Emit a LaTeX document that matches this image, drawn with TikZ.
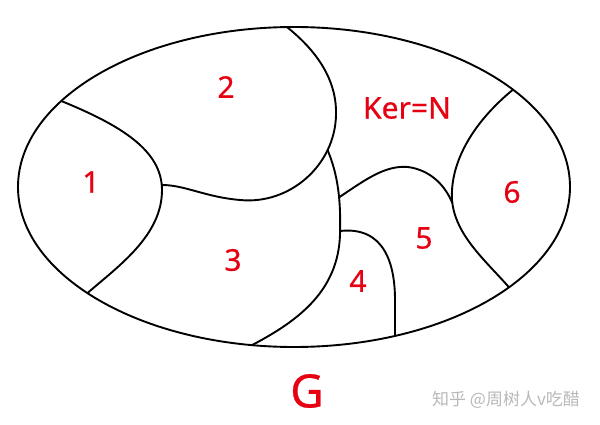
\documentclass[tikz,border=0pt]{standalone}
\usepackage{fontspec}
\setmainfont{Noto Sans}
\newfontfamily\cjk{Noto Sans CJK SC}
\newfontfamily\labfont[FakeBold=0.6]{Noto Sans}
\definecolor{lbl}{RGB}{230,0,18}
\definecolor{wm}{RGB}{185,185,185}
\begin{document}
\begin{tikzpicture}[x=1pt,y=-1pt,
  edge/.style={line width=1.9pt,line join=round},
  lab/.style={text=lbl,font=\labfont\fontsize{30}{34}\selectfont,inner sep=0pt},
  big/.style={text=lbl,font=\labfont\fontsize{46}{50}\selectfont,inner sep=0pt}]
\useasboundingbox[fill=white] (0,0) rectangle (600,425);
% outer group
\draw[edge] (294,187) ellipse [x radius=276, y radius=160];
% region 1
\draw[edge] (61.3,101) .. controls (120,125) and (162,150) .. (162,190)
  .. controls (162,235) and (120,265) .. (87.5,293);
% region 2 boundary
\draw[edge] (287,27.1) .. controls (322,55) and (337,85) .. (336,115)
  .. controls (335,165) and (290,205) .. (240,200)
  .. controls (205,197) and (185,185) .. (162,185);
% region 3 right boundary
\draw[edge] (327.6,150.1) .. controls (338,175) and (341,200) .. (340,235)
  .. controls (338,290) and (300,320) .. (252,345.1);
% region 5 top boundary
\draw[edge] (339.6,197) .. controls (365,180) and (385,165) .. (408,167)
  .. controls (430,170) and (445,185) .. (452.3,203);
% region 6 boundary
\draw[edge] (513,89.6) .. controls (470,125) and (450,165) .. (452,200)
  .. controls (455,235) and (485,260) .. (509,287.3);
% region 4 boundary
\draw[edge] (340,231) .. controls (385,226) and (395,265) .. (395,300) -- (395,335.9);
% labels
\node[lab] (l1) at (91,182) {1};
\node[lab] (l2) at (226,87) {2};
\node[lab] (lk) at (407,108) {Ker=N};
\node[lab] (l6) at (512,192) {6};
\node[lab] (l3) at (233,260) {3};
\node[lab] (l5) at (424,238) {5};
\node[lab] (l4) at (358,281) {4};
\node[big] (lg) at (307,391) {G};
\node[text=wm,font=\cjk\fontsize{17}{20}\selectfont,inner sep=0pt] (wmk) at (506,400) {知乎 @周树人v吃醋};
\end{tikzpicture}
\end{document}
